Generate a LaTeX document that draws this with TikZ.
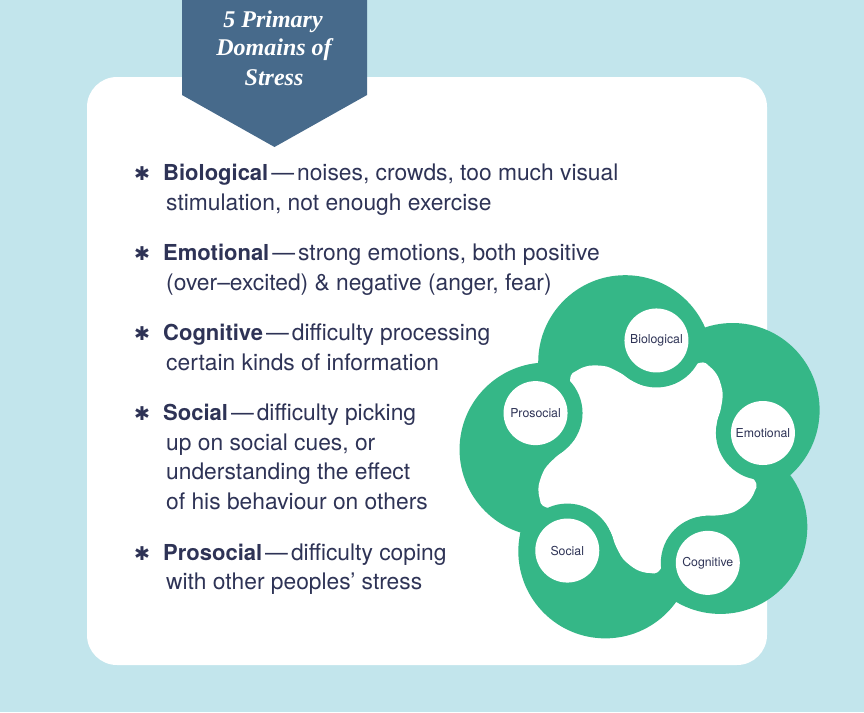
\documentclass[tikz,border=0pt]{standalone}
\usepackage{fontspec}
\setmainfont{TeX Gyre Heros}
\newfontfamily\symfont{DejaVu Sans}
\newfontfamily\bannerfont{Liberation Serif}
\definecolor{bgblue}{HTML}{C2E5EC}
\definecolor{banner}{HTML}{476A8B}
\definecolor{ringgreen}{HTML}{35B787}
\definecolor{navy}{HTML}{2E3356}
\newcommand\itemhead[1]{{\fontsize{22}{30}\selectfont\bfseries #1}\kern3pt—\kern3pt}
\tikzset{
  itemline/.style={anchor=base west, inner sep=0pt, text=navy, font=\fontsize{22.8}{30}\selectfont},
  bulletmark/.style={inner sep=0pt, text=navy, font=\symfont\fontsize{19}{19}\selectfont},
  bannertext/.style={inner sep=0pt, text=white, font=\bannerfont\bfseries\itshape\fontsize{24}{28}\selectfont},
  domainnode/.style={circle, fill=white, minimum size=64pt, inner sep=0pt, text=navy, font=\fontsize{12.3}{14}\selectfont},
}
\begin{document}
\begin{tikzpicture}[x=1pt,y=-1pt]
\useasboundingbox (0,0) rectangle (864,712);
\fill[bgblue] (0,0) rectangle (864,712);
\fill[white, rounded corners=30pt] (87,77) rectangle (767,665);
% banner
\fill[banner] (182,-2) -- (367,-2) -- (367,95) -- (274.5,147) -- (182,95) -- cycle;
\node[bannertext] (t1) at (273,22) {5 Primary};
\node[bannertext] (t2) at (274,50) {Domains of};
\node[bannertext] (t3) at (274,78) {Stress};
% list
\node[bulletmark] (b1) at (142,174) {✱};
\node[itemline] (l11) at (163,180) {\itemhead{Biological}noises, crowds, too much visual};
\node[itemline] (l12) at (166,210) {stimulation, not enough exercise};
\node[bulletmark] (b2) at (142,254) {✱};
\node[itemline] (l21) at (163,260) {\itemhead{Emotional}strong emotions, both positive};
\node[itemline] (l22) at (166,290) {(over–excited) \& negative (anger, fear)};
\node[bulletmark] (b3) at (142,334) {✱};
\node[itemline] (l31) at (163,340) {\itemhead{Cognitive}difficulty processing};
\node[itemline] (l32) at (166,370) {certain kinds of information};
\node[bulletmark] (b4) at (142,414) {✱};
\node[itemline] (l41) at (163,420) {\itemhead{Social}difficulty picking};
\node[itemline] (l42) at (166,450) {up on social cues, or};
\node[itemline] (l43) at (166,479) {understanding the effect};
\node[itemline] (l44) at (166,509) {of his behaviour on others};
\node[bulletmark] (b5) at (142,554) {✱};
\node[itemline] (l51) at (163,560) {\itemhead{Prosocial}difficulty coping};
\node[itemline] (l52) at (166,589) {with other peoples’ stress};
% cycle figure
\begin{scope}[shift={(646,460)}, yscale=-1]
  \fill[ringgreen] \foreach \k in {0,...,4} { ({102-72*\k}:100) circle[radius=87pt] };
  \fill[white] plot[smooth cycle] coordinates {
    (61.6:110) (55.6:113) (49:110) (41:101.6) (34:90) (27.4:80) (13:75)
    (-10.4:110) (-16.4:113) (-23:110) (-31:101.6) (-38:90) (-44.6:80) (-59:75)
    (-82.4:110) (-88.4:113) (-95:110) (-103:101.6) (-110:90) (-116.6:80) (-131:75)
    (-154.4:110) (-160.4:113) (-167:110) (-175:101.6) (-182:90) (-188.6:80) (-203:75)
    (-226.4:110) (-232.4:113) (-239:110) (-247:101.6) (-254:90) (-260.6:80) (-275:75)};
  \fill[ringgreen] \foreach \k in {0,...,4} { ({85-72*\k}:120) circle[radius=47pt] };
  \node[domainnode] (bio) at (85:120) {Biological};
  \node[domainnode] (emo) at (13:120) {Emotional};
  \node[domainnode] (cog) at (-59:120) {Cognitive};
  \node[domainnode] (soc) at (-131:120) {Social};
  \node[domainnode] (pro) at (-203:120) {Prosocial};
\end{scope}
\end{tikzpicture}
\end{document}
